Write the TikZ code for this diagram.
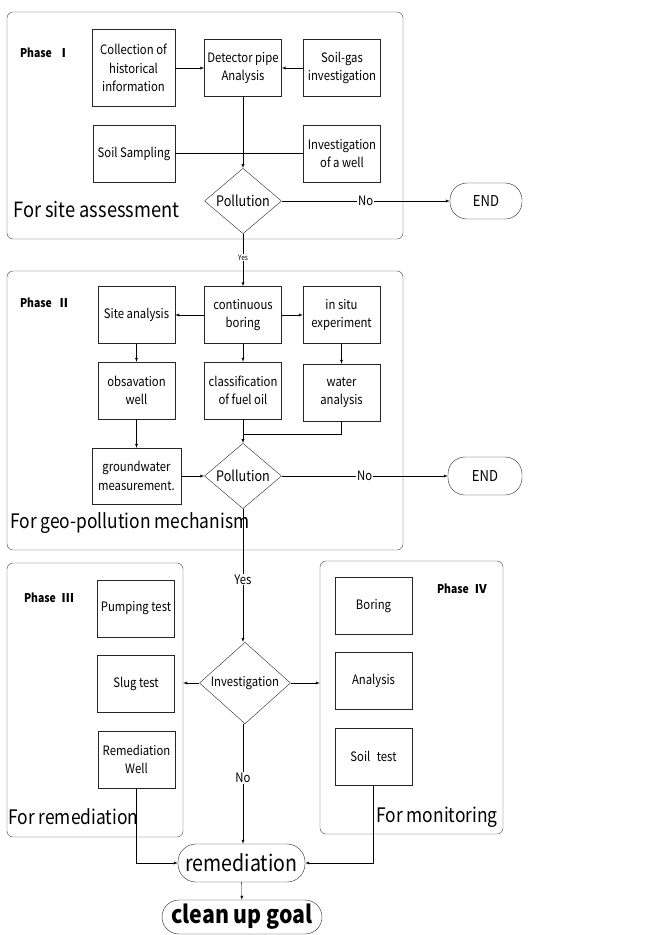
\documentclass[tikz,border=0pt]{standalone}
\usepackage{fontspec}
\setmainfont{Noto Sans CJK JP}[FakeStretch=0.87]
\newfontfamily\cjk{Noto Sans CJK JP}
\usetikzlibrary{shapes.geometric}
\begin{document}
\begin{tikzpicture}[x=1pt,y=-1pt,
    frame/.style={draw=black!75,rounded corners=6pt,inner sep=0pt},
    box/.style={draw=black!85,minimum width=77pt,minimum height=57pt,align=center,inner sep=1pt,font=\fontsize{13}{18.5}\selectfont},
    decision/.style={draw=black!85,diamond,inner sep=0pt,minimum width=77pt,minimum height=56pt,font=\fontsize{14.5}{16}\selectfont},
    terminal/.style={draw=black!85,rounded corners=17pt,minimum height=36pt,inner sep=0pt},
    phase/.style={font=\fontsize{12}{14}\selectfont\bfseries},
    group/.style={anchor=west,inner sep=0pt,font=\fontsize{20}{22}\selectfont},
    lbl/.style={fill=white,inner sep=1pt,font=\fontsize{13}{15}\selectfont}]
        \useasboundingbox (0,0) rectangle (654,935);
        % phase frames
        \node[frame,minimum width=396pt,minimum height=227pt](f1)at(205,125.5){};
        \node[frame,minimum width=396pt,minimum height=279pt](f2)at(205,410.5){};
        \node[frame,minimum width=176pt,minimum height=274pt](f3)at(95,700){};
        \node[frame,minimum width=183pt,minimum height=273pt](f4)at(411.5,697.5){};
        % Phase I
        \node[phase](p1)at(45,53){Phase\enspace{\cjk Ⅰ}};
        \node[box,minimum width=83pt,minimum height=77pt](coll)at(133.5,68){Collection of\\historical\\information};
        \node[box](det)at(243,68){Detector pipe\\Analysis};
        \node[box](gas)at(342,68){Soil-gas\\investigation};
        \node[box,minimum width=82pt](samp)at(134,153.5){Soil Sampling};
        \node[box](well)at(342,153.5){Investigation\\of a well};
        \node[decision](pol1)at(243,201){Pollution};
        \node[terminal,minimum width=72pt,font=\fontsize{15}{17}\selectfont](end1)at(486,201){END};
        \node[group,font=\fontsize{21}{23}\selectfont](g1)at(13,209){For site assessment};
        \draw[-latex](coll)--(det);
        \draw[-latex](gas)--(det);
        \draw(samp)--(well);
        \draw[-latex](det)--(pol1);
        \draw[-latex](pol1)--node[lbl]{No}(end1);
        % Phase II
        \node[phase](p2)at(45,303){Phase\enspace{\cjk Ⅱ}};
        \node[box](cont)at(243,315){continuous\\boring};
        \node[box](site)at(136.5,315){Site analysis};
        \node[box](situ)at(341.5,315){in situ\\experiment};
        \node[box](obs)at(136.5,390.5){obsavation\\well};
        \node[box](cls)at(243,390.5){classification\\of fuel oil};
        \node[box](water)at(341.5,392.5){water\\analysis};
        \node[box,minimum width=89pt,minimum height=56pt](gw)at(136.5,476){groundwater\\measurement.};
        \node[decision](pol2)at(243,476){Pollution};
        \node[terminal,minimum width=74pt,minimum height=38pt,font=\fontsize{15}{17}\selectfont](end2)at(485,476){END};
        \node[group](g2)at(10,523){For geo-pollution mechanism};
        \coordinate(join)at(243,434);
        \draw[-latex](pol1)--node[lbl,pos=0.45,font=\fontsize{7.5}{8}\selectfont]{Yes}(cont);
        \draw[-latex](cont)--(site);
        \draw[-latex](cont)--(situ);
        \draw[-latex](site)--(obs);
        \draw[-latex](cont)--(cls);
        \draw[-latex](situ)--(water);
        \draw[-latex](obs)--(gw);
        \draw[-latex](gw)--(pol2);
        \draw[-latex](cls)--(pol2);
        \draw(water.south)|-(join);
        \draw[-latex](pol2)--node[lbl]{No}(end2);
        % Phase III and IV
        \node[phase](p3)at(49,598){Phase\enspace{\cjk Ⅲ}};
        \node[phase](p4)at(462,589){Phase\enspace{\cjk Ⅳ}};
        \node[box](pump)at(136,608.5){Pumping test};
        \node[box](slug)at(136,683.5){Slug test};
        \node[box](rwell)at(136.5,759.5){Remediation\\Well};
        \node[box](boring)at(373.5,606){Boring};
        \node[box](anal)at(373.5,680.5){Analysis};
        \node[box](stest)at(373.5,756.5){Soil\enspace test};
        \node[decision,minimum width=91pt,minimum height=58pt,font=\fontsize{13}{15}\selectfont](inv)at(245,683){Investigation};
        \node[group](g3)at(8,817){For remediation};
        \node[group](g4)at(376,817){For monitoring};
        \node[terminal,minimum width=127pt,minimum height=38pt,rounded corners=18pt,font=\fontsize{22.5}{24}\selectfont](rem)at(241.5,863){remediation};
        \node[terminal,minimum width=160pt,minimum height=34pt,font=\fontsize{24.5}{26}\selectfont\bfseries](goal)at(242,917){clean up goal};
        \draw[-latex](pol2)--node[lbl,pos=0.53]{Yes}(pol2|-inv.north);
        \draw[-latex](inv.west)--(inv.west-|f3.east);
        \draw[-latex](inv.east)--(inv.east-|f4.west);
        \draw[-latex](inv.south-|pol2)--node[lbl,pos=0.45]{No}(rem.north-|pol2);
        \draw[-latex](rwell)|-(rem);
        \draw[-latex](stest)|-(rem);
        \draw[-latex](rem)--(goal);
    \end{tikzpicture}
\end{document}
